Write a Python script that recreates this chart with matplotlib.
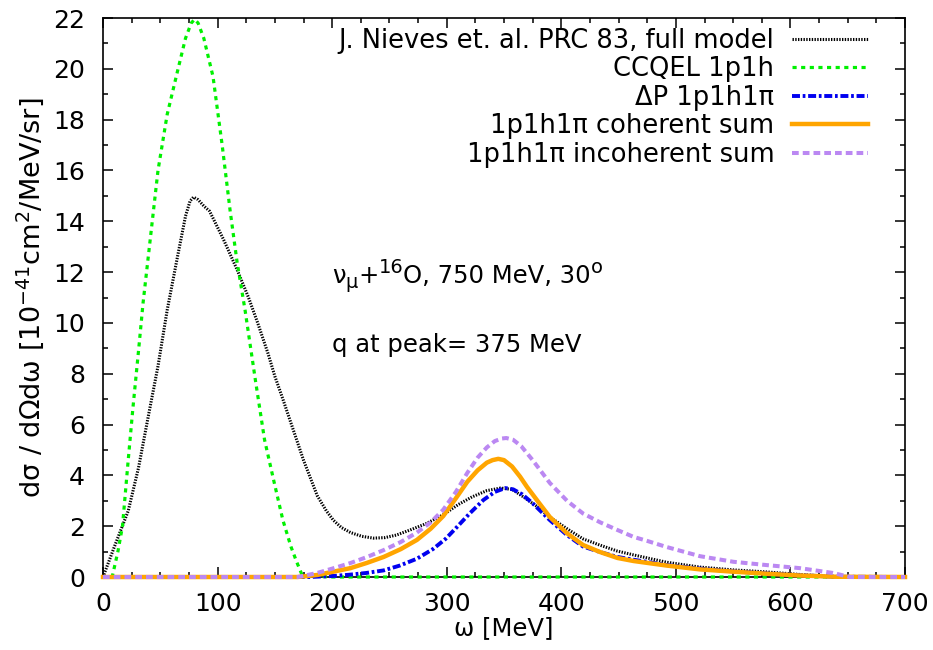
import numpy as np
import matplotlib
matplotlib.use("Agg")
import matplotlib.pyplot as plt
import matplotlib.transforms as mtransforms
from matplotlib.ticker import MultipleLocator

plt.rcParams['font.family'] = ['DejaVu Sans']
plt.rcParams['mathtext.fontset'] = 'dejavusans'

# Nieves full model
x_nieves = [0, 10, 22, 31, 39, 48, 56, 65, 72, 76, 79, 83, 88, 93, 105, 117, 127, 135, 144, 150,
            157, 163, 175, 187, 195, 201, 208, 216, 226, 236, 246, 256, 268, 282, 297, 310, 322,
            335, 347, 357, 367, 378, 390, 405, 419, 434, 449, 463, 475, 492, 521, 550, 579, 608,
            631, 650, 700]
y_nieves = [0, 1.2, 2.6, 4.3, 6.2, 8.3, 10.5, 12.6, 14.2, 14.8, 14.95, 14.85, 14.6, 14.4, 13.3,
            12.1, 11.0, 10.0, 8.8, 7.9, 7.0, 6.2, 4.6, 3.2, 2.6, 2.24, 1.95, 1.75, 1.6, 1.53,
            1.55, 1.65, 1.85, 2.1, 2.45, 2.85, 3.15, 3.4, 3.5, 3.45, 3.15, 2.8, 2.36, 1.9, 1.5,
            1.25, 1.02, 0.87, 0.75, 0.58, 0.39, 0.28, 0.2, 0.1, 0.03, 0, 0]

# CCQEL 1p1h
x_ccqel = [0, 8, 13, 17, 22, 26, 31, 35, 42, 48, 56, 65, 72, 77, 80, 83, 88, 96, 104, 111, 117,
           124, 133, 141, 149, 157, 164, 169, 174, 200, 300, 400, 500, 600, 700]
y_ccqel = [0, 0, 1.0, 2.0, 4.6, 6.6, 8.9, 10.8, 13.6, 16.0, 18.2, 19.9, 21.2, 21.8, 21.95, 21.8,
           21.2, 19.7, 17.0, 14.4, 12.4, 10.5, 7.75, 5.4, 3.8, 2.24, 1.2, 0.6, 0.05, 0, 0, 0, 0,
           0, 0]

# Delta P 1p1h1pi
x_delta = [0, 100, 180, 201, 215, 230, 245, 259, 274, 288, 299, 309, 320, 332, 342, 351, 358,
           366, 375, 390, 405, 419, 434, 449, 463, 492, 521, 550, 579, 608, 640, 700]
y_delta = [0, 0, 0, 0.04, 0.09, 0.16, 0.26, 0.45, 0.72, 1.1, 1.5, 1.97, 2.5, 3.03, 3.35, 3.5,
           3.45, 3.25, 2.9, 2.24, 1.65, 1.2, 0.98, 0.79, 0.68, 0.47, 0.33, 0.22, 0.14, 0.07,
           0.01, 0]

# 1p1h1pi coherent sum
x_coh = [0, 100, 170, 187, 200, 216, 230, 245, 260, 274, 286, 297, 308, 318, 327, 335, 340, 345,
         350, 357, 364, 370, 380, 390, 405, 419, 434, 449, 463, 492, 521, 550, 579, 608, 640, 700]
y_coh = [0, 0, 0, 0.08, 0.2, 0.35, 0.55, 0.79, 1.1, 1.46, 1.9, 2.4, 3.1, 3.75, 4.2, 4.5, 4.6,
         4.65, 4.6, 4.35, 3.95, 3.55, 2.95, 2.36, 1.72, 1.26, 0.98, 0.75, 0.63, 0.45, 0.3, 0.21,
         0.13, 0.06, 0.01, 0]

# 1p1h1pi incoherent sum
x_incoh = [0, 100, 170, 187, 200, 216, 230, 245, 260, 274, 286, 297, 308, 318, 327, 335, 342,
           348, 352, 358, 365, 375, 390, 405, 419, 434, 449, 463, 475, 492, 521, 550, 579, 608,
           637, 652, 700]
y_incoh = [0, 0, 0, 0.16, 0.33, 0.55, 0.78, 1.06, 1.38, 1.75, 2.15, 2.65, 3.35, 4.1, 4.7, 5.1,
           5.35, 5.45, 5.47, 5.4, 5.15, 4.6, 3.7, 3.0, 2.5, 2.15, 1.85, 1.58, 1.42, 1.18, 0.82,
           0.6, 0.47, 0.35, 0.16, 0, 0]

labels = ["J. Nieves et. al. PRC 83, full model", "CCQEL 1p1h", "ΔP 1p1h1π",
          "1p1h1π coherent sum", "1p1h1π incoherent sum"]

FS = 18

fig = plt.figure(figsize=(9.33, 6.5), dpi=100)
ax = fig.add_axes([0.1104, 0.1123, 0.8596, 0.86])

kw = dict(clip_on=False, zorder=3)
ax.plot(x_nieves, y_nieves, color='black', lw=2.2, ls=(0, (0.45, 0.45)), label=labels[0], **kw)
ax.plot(x_ccqel, y_ccqel, color='#00f000', lw=2.3, ls=(0, (1.3, 1.4)), label=labels[1], **kw)
ax.plot(x_delta, y_delta, color='#0000f0', lw=2.8, ls=(0, (2.05, 0.7, 0.7, 0.7)), label=labels[2], **kw)
ax.plot(x_coh, y_coh, color='#ffa500', lw=3.2, ls='-', label=labels[3], **kw)
ax.plot(x_incoh, y_incoh, color='#bb88f2', lw=2.9, ls=(0, (1.67, 1.0)), label=labels[4], **kw)

ax.set_xlim(0, 700)
ax.set_ylim(0, 22)
ax.xaxis.set_major_locator(MultipleLocator(100))
ax.xaxis.set_minor_locator(MultipleLocator(25))
ax.yaxis.set_major_locator(MultipleLocator(2))
ax.yaxis.set_minor_locator(MultipleLocator(1))
ax.tick_params(which='both', direction='in', top=True, right=True, width=1.1)
ax.tick_params(which='major', length=7.2, labelsize=FS)
ax.tick_params(axis='x', which='major', pad=11)
ax.tick_params(axis='y', which='major', pad=13)
ax.tick_params(which='minor', length=3.6)
for s in ax.spines.values():
    s.set_linewidth(1.2)

ax.set_xlabel('ω [MeV]', fontsize=17.5, labelpad=0)
ax.set_ylabel(r'dσ / dΩdω [10$^{-41}$cm$^{2}$/MeV/sr]', fontsize=19.5, labelpad=5)

leg = ax.legend(loc='upper right', bbox_to_anchor=(0.954, 0.983), frameon=False, fontsize=18.5,
                markerfirst=False, handlelength=2.95, handletextpad=0.7, labelspacing=0.1,
                borderpad=0.0, borderaxespad=0.0)
for t in leg.get_texts():
    t.set_ha('right')


def rich_text(x, y, pieces, fs):
    renderer = fig.canvas.get_renderer()
    xoff = 0.0
    for s, dy, scale in pieces:
        tr = mtransforms.offset_copy(ax.transData, fig=fig, x=xoff, y=dy, units='dots')
        t = ax.text(x, y, s, fontsize=fs * scale, transform=tr, va='baseline', ha='left')
        xoff += t.get_window_extent(renderer).width


rich_text(200, 11.57, [("ν", 0, 1.0), ("μ", -5, 0.8), ("+", 0, 1.0), ("16", 10, 0.8),
                       ("O, 750 MeV, 30", 0, 1.0), ("o", 10, 0.8)], 17.5)
ax.text(200, 8.85, 'q at peak= 375 MeV', fontsize=17.5)

fig.savefig('out.png', dpi=100)
